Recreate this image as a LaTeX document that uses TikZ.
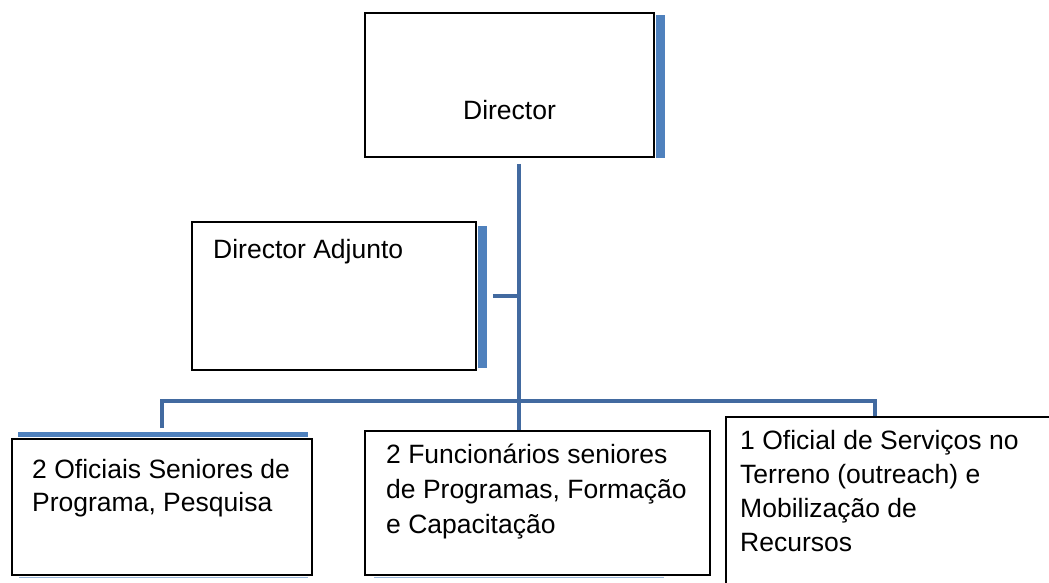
\documentclass[tikz,border=0pt]{standalone}
\usepackage{fontspec}
\setmainfont{Liberation Sans}
\definecolor{barblue}{RGB}{79,129,189}
\definecolor{lineblue}{RGB}{66,106,160}
\definecolor{faintblue}{RGB}{150,180,215}
\begin{document}
\begin{tikzpicture}[x=1pt,y=-1pt,
  box/.style={draw=black,line width=1.6pt,fill=white,inner sep=0pt,rectangle},
  bar/.style={fill=barblue},
  faint/.style={fill=faintblue},
  conn/.style={draw=lineblue,line width=4pt},
  txt/.style={inner sep=0pt,align=left,font=\fontsize{26.5}{34}\selectfont}]
\clip (0,0) rectangle (1049,582);
\fill[white] (0,0) rectangle (1049,582);
% boxes
\node[box,minimum width=289pt,minimum height=144pt] (dir) at (509.5,85) {};
\node[box,minimum width=284pt,minimum height=148pt] (adj) at (334,296) {};
% connectors
\coordinate (trunk) at (519,401);
\coordinate (rend) at (875,401);
\draw[conn] ([yshift=-6pt]dir.south -| trunk) -- (trunk |- 0,431);
\draw[conn] ([xshift=16pt]adj.east) -- (adj.east -| trunk);
\draw[conn] (162,428) -- (162,401) -- (rend) -- (875,417);
% bottom boxes
\node[box,minimum width=300pt,minimum height=136pt] (b1) at (162,507) {};
\node[box,minimum width=345pt,minimum height=144pt] (b2) at (537.5,503) {};
\node[box,minimum width=344pt,minimum height=183pt] (b3) at (898,508.5) {};
% blue bars
\fill[bar] ([yshift=-3pt,xshift=0.8pt]dir.north east) rectangle ([xshift=10pt]dir.south east);
\fill[bar] ([yshift=-5pt,xshift=0.8pt]adj.north east) rectangle ([xshift=10pt,yshift=3pt]adj.south east);
\fill[bar] ([xshift=7pt,yshift=6pt]b1.north west) rectangle ([xshift=-5pt,yshift=0.8pt]b1.north east);
\fill[faint] ([xshift=8pt,yshift=-0.8pt]b1.south west) rectangle ([xshift=-5pt,yshift=-2.3pt]b1.south east);
\fill[faint] ([xshift=10pt,yshift=-0.8pt]b2.south west) rectangle ([xshift=-47pt,yshift=-2.3pt]b2.south east);
% texts (base anchor = baseline of the last line)
\node[txt,anchor=base] (tdir) at (509.5,119) {Director};
\node[txt,anchor=base west] (tadj) at (213,258) {Director Adjunto};
\node[txt,anchor=base west,font=\fontsize{26.5}{33}\selectfont] (t1) at (32,511) {2 Oficiais Seniores de\\Programa, Pesquisa};
\node[txt,anchor=base west,font=\fontsize{26.5}{35}\selectfont] (t2) at (386,533) {2 Funcionários seniores\\de Programas, Formação\\e Capacitação};
\node[txt,anchor=base west,font=\fontsize{26.5}{34}\selectfont] (t3) at (740,551) {1 Oficial de Serviços no\\Terreno (outreach) e\\Mobilização de\\Recursos};
\end{tikzpicture}
\end{document}
